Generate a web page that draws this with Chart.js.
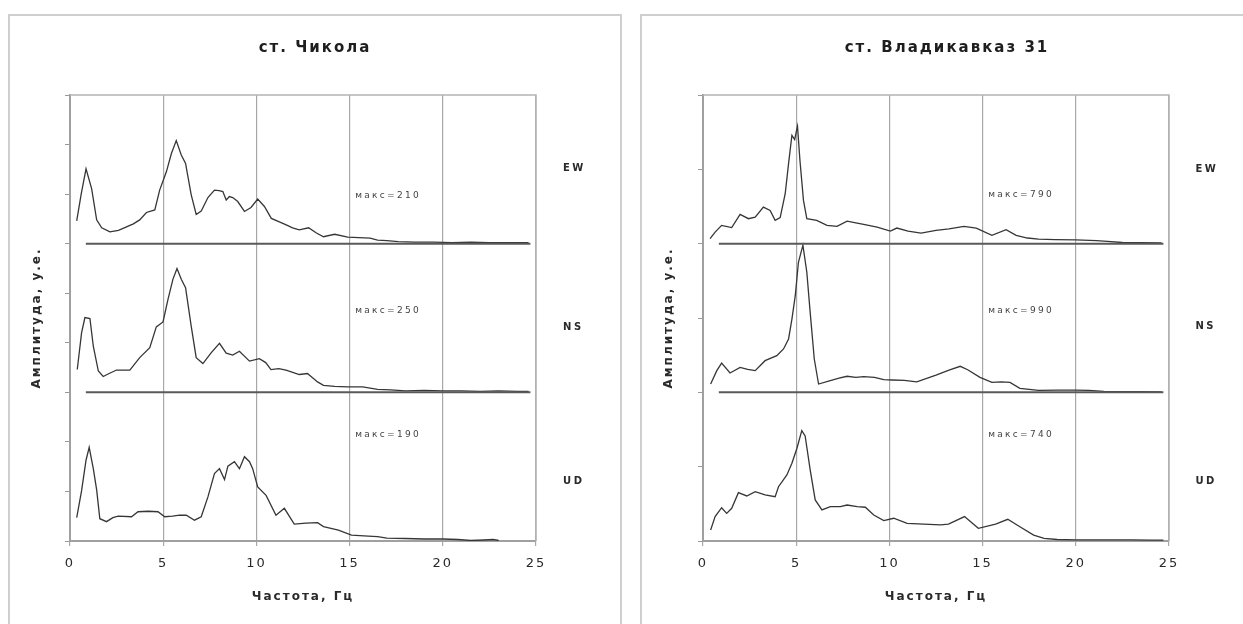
<!DOCTYPE html>
<html lang="ru">
<head>
<meta charset="utf-8">
<title>Спектры</title>
<script src="https://cdn.jsdelivr.net/npm/chart.js@4.4.1/dist/chart.umd.min.js"></script>
<style>
  body { margin: 0; background: #fff; overflow: hidden; width: 1243px; height: 624px; position: relative; }
  .panel { position: absolute; top: 14px; width: 610px; height: 640px; border: 2px solid #cfcfcf; background: #fff; }
  #p1 { left: 8px; }
  #p2 { left: 640px; }
  canvas { display: block; }
</style>
</head>
<body>
<div class="panel" id="p1"><canvas id="chikola" width="610" height="620"></canvas></div>
<div class="panel" id="p2"><canvas id="vlad" width="610" height="620"></canvas></div>
<script>
// компоненты записи
const components = ["EW", "NS", "UD"];

// ст. Чикола (сдвиг по оси: EW +600, NS +300, UD 0)
const chikolaMax = [210, 250, 190];
const chikolaShift = [600, 300, 0];
const chikolaEwFreq = [0.36, 0.6, 0.86, 1.16, 1.43, 1.7, 2.14, 2.6, 3.03, 3.4, 3.74, 4.1, 4.55, 4.81, 5.17, 5.44, 5.7, 5.97, 6.2, 6.5, 6.77, 7.04, 7.4, 7.75, 8.0, 8.2, 8.38, 8.55, 8.73, 9.0, 9.36, 9.71, 10.07, 10.43, 10.8, 11.23, 11.6, 11.94, 12.3, 12.8, 13.2, 13.6, 14.2, 14.9, 15.5, 16.1, 16.5, 17.0, 17.6, 18.5, 19.5, 20.5, 21.5, 22.5, 23.5, 24.6];
const chikolaEwAmp  = [46, 100, 151, 111, 48, 32, 24, 27, 34, 40, 48, 63, 68, 108, 145, 182, 208, 179, 162, 99, 59, 66, 93, 108, 107, 105, 88, 95, 93, 85, 65, 73, 90, 75, 51, 44, 38, 32, 28, 32, 22, 14, 19, 13, 12, 11, 7, 6, 4, 3, 3, 2, 3, 2, 2, 2];
const chikolaNsFreq = [0.39, 0.62, 0.8, 1.07, 1.25, 1.52, 1.78, 2.1, 2.5, 2.9, 3.21, 3.74, 4.28, 4.63, 4.99, 5.26, 5.52, 5.74, 5.97, 6.2, 6.5, 6.77, 7.13, 7.58, 8.02, 8.38, 8.73, 9.09, 9.63, 10.16, 10.5, 10.78, 11.2, 11.59, 12.3, 12.74, 13.28, 13.6, 14.2, 14.9, 15.7, 16.5, 17.2, 18.0, 19.0, 20.0, 21.0, 22.0, 23.0, 24.0, 24.6];
const chikolaNsAmp  = [46, 120, 151, 149, 93, 43, 32, 38, 45, 45, 45, 70, 90, 132, 142, 188, 228, 250, 228, 211, 134, 70, 58, 80, 99, 79, 75, 83, 63, 68, 60, 46, 48, 45, 36, 38, 21, 14, 12, 11, 11, 6, 5, 3, 4, 3, 3, 2, 3, 2, 2];
const chikolaUdFreq = [0.36, 0.62, 0.86, 1.03, 1.25, 1.43, 1.6, 1.96, 2.3, 2.58, 3.3, 3.65, 4.2, 4.72, 5.08, 5.5, 5.88, 6.24, 6.68, 7.04, 7.4, 7.75, 8.02, 8.29, 8.47, 8.82, 9.09, 9.36, 9.63, 9.8, 10.07, 10.52, 11.05, 11.5, 12.03, 12.66, 13.28, 13.6, 14.4, 15.1, 16.0, 16.5, 17.0, 18.0, 19.0, 20.0, 20.8, 21.5, 22.2, 22.7, 23.0];
const chikolaUdAmp  = [47, 101, 163, 189, 146, 103, 45, 39, 47, 50, 49, 59, 60, 59, 49, 50, 52, 52, 42, 49, 89, 136, 146, 124, 151, 160, 146, 170, 160, 146, 109, 92, 52, 66, 34, 36, 37, 29, 22, 12, 10, 9, 6, 5, 4, 4, 3, 1, 2, 3, 1];

// ст. Владикавказ 31 (сдвиг: EW +2000, NS +1000, UD 0)
const vladMax = [790, 990, 740];
const vladShift = [2000, 1000, 0];
const vladEwFreq = [0.38, 0.65, 1.0, 1.54, 1.99, 2.44, 2.8, 3.24, 3.6, 3.87, 4.14, 4.41, 4.59, 4.77, 4.92, 5.0, 5.07, 5.2, 5.39, 5.57, 6.1, 6.65, 7.19, 7.73, 8.2, 8.62, 9.34, 10.05, 10.4, 11.0, 11.7, 12.5, 13.2, 14.0, 14.66, 15.5, 16.26, 16.8, 17.4, 18.0, 18.9, 20.0, 21.1, 21.7, 22.5, 23.5, 24.6];
const vladEwAmp  = [34, 78, 123, 108, 197, 168, 179, 246, 224, 157, 175, 336, 538, 729, 700, 751, 790, 561, 291, 168, 157, 123, 116, 152, 140, 130, 112, 85, 105, 85, 71, 89, 100, 116, 105, 56, 94, 56, 38, 30, 27, 25, 20, 15, 8, 6, 5];
const vladNsFreq = [0.41, 0.74, 1.0, 1.45, 1.99, 2.4, 2.8, 3.33, 3.96, 4.32, 4.59, 4.77, 4.95, 5.12, 5.36, 5.57, 5.75, 5.97, 6.2, 6.83, 7.3, 7.73, 8.2, 8.62, 9.2, 9.7, 10.16, 10.8, 11.47, 12.5, 13.2, 13.8, 14.2, 14.86, 15.5, 16.0, 16.47, 17.0, 18.0, 19.0, 20.0, 20.7, 21.5, 22.5, 23.5, 24.6];
const vladNsAmp  = [56, 146, 197, 130, 168, 155, 146, 213, 247, 292, 359, 493, 650, 875, 990, 808, 538, 224, 56, 78, 95, 108, 100, 105, 100, 85, 83, 80, 71, 116, 150, 175, 152, 101, 67, 70, 67, 27, 13, 15, 15, 13, 6, 5, 4, 3];
const vladUdFreq = [0.41, 0.65, 1.0, 1.27, 1.54, 1.9, 2.35, 2.8, 3.33, 3.87, 4.05, 4.5, 4.77, 5.04, 5.3, 5.48, 5.75, 6.02, 6.38, 6.83, 7.37, 7.73, 8.27, 8.71, 9.16, 9.7, 10.23, 10.95, 11.84, 12.74, 13.17, 14.03, 14.77, 15.7, 16.35, 17.0, 17.74, 18.3, 19.0, 20.0, 21.0, 22.0, 23.0, 24.0, 24.7];
const vladUdAmp  = [74, 164, 224, 186, 220, 325, 303, 332, 310, 298, 365, 444, 523, 624, 742, 707, 478, 276, 209, 231, 231, 242, 231, 227, 175, 137, 153, 119, 114, 108, 114, 164, 85, 114, 146, 96, 40, 18, 10, 8, 8, 7, 7, 6, 6];

// нулевые линии для EW и NS
const baseFrom = 0.85;
const baseTo = 24.7;

const FONT = '"DejaVu Sans", Arial, sans-serif';
Chart.defaults.font.family = FONT;
Chart.defaults.color = "#2a2a2a";

// разрядка букв, как на исходной картинке
const spacingPlugin = {
    id: "spacing",
    beforeUpdate(chart) { chart.ctx.letterSpacing = "2px"; },
    beforeDraw(chart) { chart.ctx.letterSpacing = "2px"; }
};

// верхняя и правая рамка области графика
const framePlugin = {
    id: "frame",
    beforeDatasetsDraw(chart) {
        const { ctx, chartArea: a } = chart;
        ctx.save();
        ctx.strokeStyle = "#b4b4b4";
        ctx.lineWidth = 1.5;
        ctx.beginPath();
        ctx.moveTo(a.left, a.top);
        ctx.lineTo(a.right, a.top);
        ctx.lineTo(a.right, a.bottom);
        ctx.stroke();
        ctx.restore();
    }
};

// подписи "макс=..." и названия компонент
const notesPlugin = {
    id: "notes",
    afterDraw(chart, args, opts) {
        const { ctx, scales } = chart;
        ctx.save();
        ctx.textBaseline = "middle";
        ctx.textAlign = "left";
        opts.items.forEach(n => {
            ctx.font = n.font;
            ctx.fillStyle = n.color;
            ctx.letterSpacing = n.spacing;
            ctx.fillText(n.text, scales.x.getPixelForValue(n.x), scales.y.getPixelForValue(n.y));
        });
        ctx.restore();
    }
};

function makeTrace(freq, amp, shift) {
    return {
        data: freq.map((f, i) => ({ x: f, y: amp[i] + shift })),
        borderColor: "#363636",
        borderWidth: 1.3,
        pointRadius: 0,
        tension: 0,
        fill: false
    };
}

function makeBase(shift) {
    return {
        data: [{ x: baseFrom, y: shift }, { x: baseTo, y: shift }],
        borderColor: "#5a5a5a",
        borderWidth: 2,
        pointRadius: 0,
        fill: false
    };
}

function creerGraphique(id, title, traces, shifts, yMax, yStep, axisWidth, notes) {
    const datasets = [makeBase(shifts[0]), makeBase(shifts[1])];
    traces.forEach((t, i) => datasets.push(makeTrace(t[0], t[1], shifts[i])));

    new Chart(document.getElementById(id), {
        type: "line",
        data: { datasets },
        plugins: [spacingPlugin, framePlugin, notesPlugin],
        options: {
            responsive: false,
            devicePixelRatio: 1,
            animation: false,
            layout: { padding: 0 },
            plugins: {
                legend: { display: false },
                tooltip: { enabled: false },
                title: {
                    display: true,
                    text: title,
                    color: "#1e1e1e",
                    font: { size: 15, weight: "bold" },
                    padding: { top: 23, bottom: 38 }
                },
                notes: { items: notes }
            },
            scales: {
                x: {
                    type: "linear",
                    min: 0,
                    max: 25,
                    ticks: { stepSize: 5, font: { size: 13 }, color: "#2a2a2a", padding: 10 },
                    grid: { color: "#a8a8a8", lineWidth: 1.2, tickLength: 5, drawTicks: true },
                    border: { color: "#a0a0a0", width: 2 },
                    title: {
                        display: true,
                        text: "Частота, Гц",
                        color: "#2a2a2a",
                        font: { size: 12, weight: "bold" },
                        padding: { top: 0, bottom: 32 }
                    },
                    afterFit: s => { s.height = 95; }
                },
                y: {
                    min: 0,
                    max: yMax,
                    ticks: { stepSize: yStep, display: false },
                    grid: { drawOnChartArea: false, drawTicks: true, tickLength: 5, color: "#999" },
                    border: { color: "#a0a0a0", width: 2 },
                    title: {
                        display: true,
                        text: "Амплитуда, у.е.",
                        color: "#2a2a2a",
                        font: { size: 12, weight: "bold" },
                        padding: { top: 20, bottom: 0 }
                    },
                    afterFit: s => { s.width = axisWidth; }
                },
                // пустое поле справа под подписи компонент
                side: {
                    position: "right",
                    grid: { display: false },
                    ticks: { display: false },
                    border: { display: false },
                    afterFit: s => { s.width = 610 - axisWidth - 466; }
                }
            }
        }
    });
}

function buildNotes(maxima, maxX, maxY, compX, compY) {
    const items = [];
    maxima.forEach((m, i) => {
        items.push({ text: "макс=" + m, x: maxX, y: maxY[i], font: "9px " + FONT, color: "#444", spacing: "2.3px" });
        items.push({ text: components[i], x: compX, y: compY[i], font: "bold 10px " + FONT, color: "#2a2a2a", spacing: "2.5px" });
    });
    return items;
}

creerGraphique("chikola", "ст. Чикола",
    [[chikolaEwFreq, chikolaEwAmp], [chikolaNsFreq, chikolaNsAmp], [chikolaUdFreq, chikolaUdAmp]],
    chikolaShift, 900, 100, 60,
    buildNotes(chikolaMax, 15.3, [696, 465, 214], 26.45, [751, 432, 120]));

creerGraphique("vlad", "ст. Владикавказ 31",
    [[vladEwFreq, vladEwAmp], [vladNsFreq, vladNsAmp], [vladUdFreq, vladUdAmp]],
    vladShift, 3000, 500, 61,
    buildNotes(vladMax, 15.3, [2327, 1549, 713], 26.42, [2502, 1441, 399]));
</script>
</body>
</html>
